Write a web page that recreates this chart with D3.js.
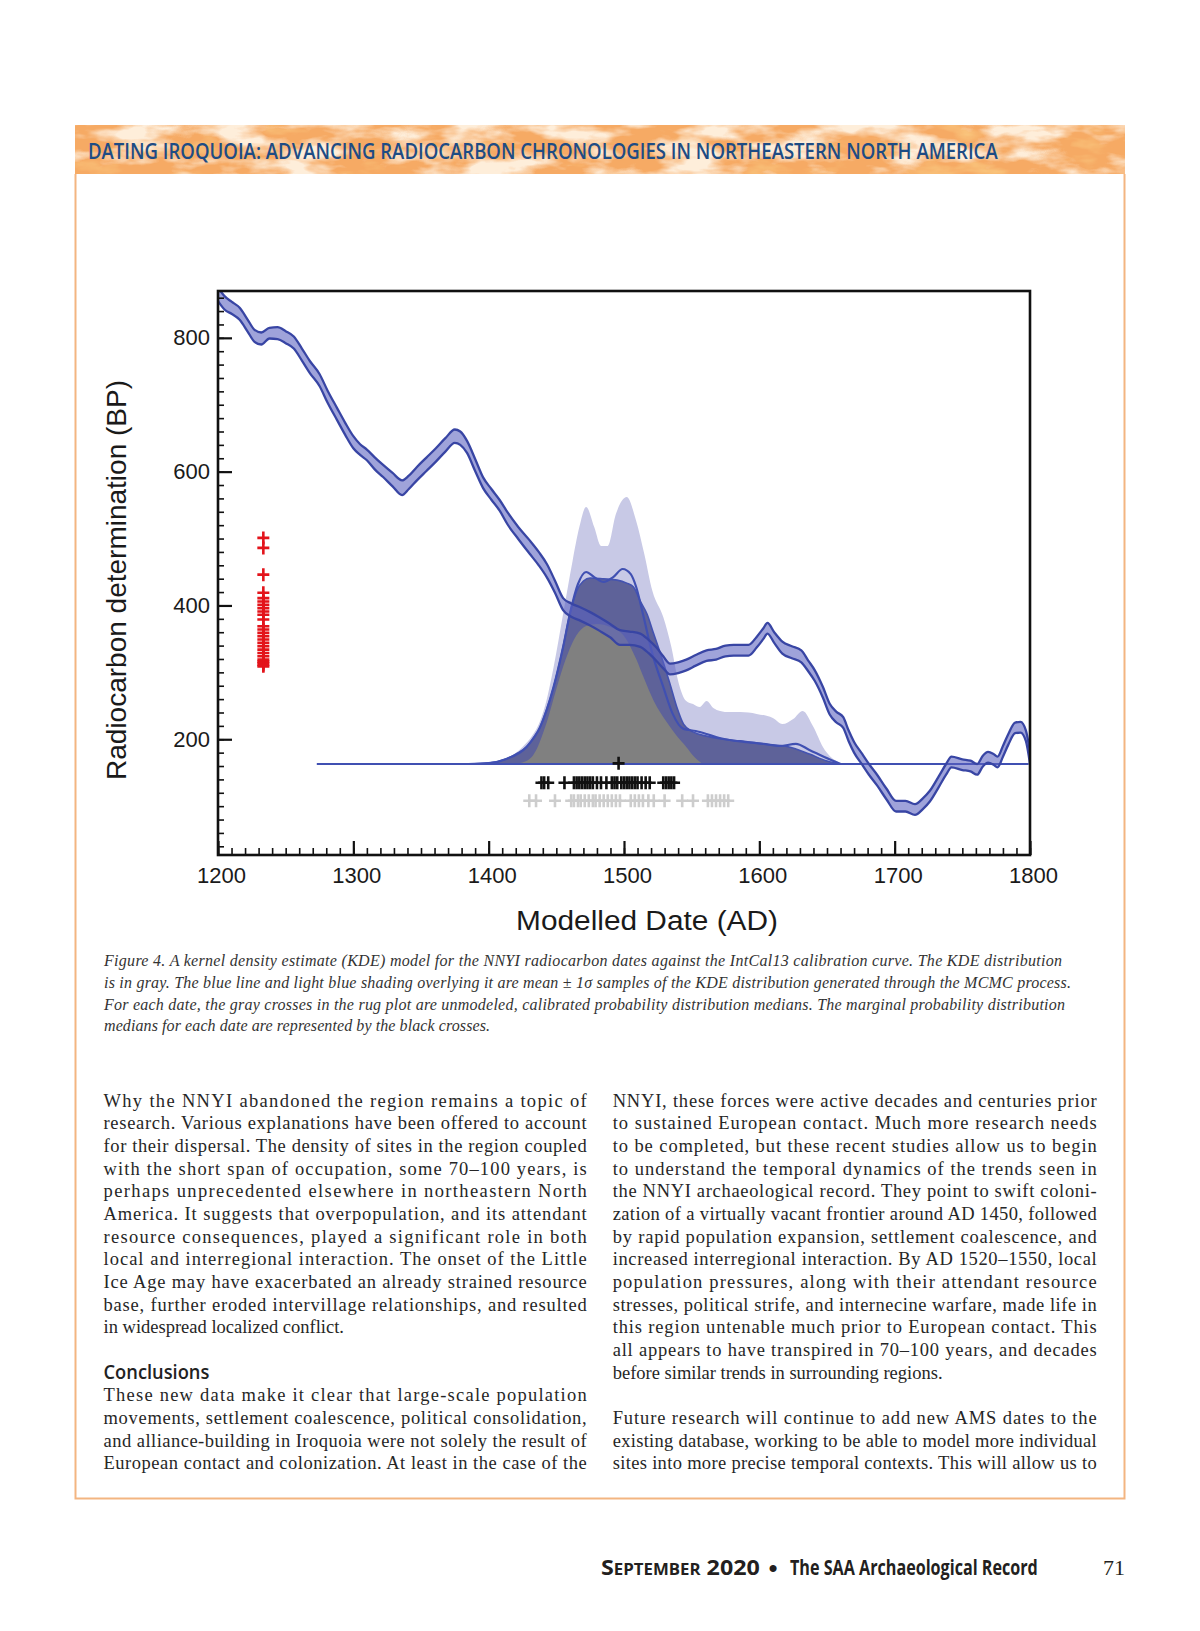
<!DOCTYPE html>
<html><head><meta charset="utf-8">
<script src="https://cdn.jsdelivr.net/npm/d3@7"></script>
<style>html,body{margin:0;padding:0;background:#fff;} svg{display:block;}</style>
</head><body>
<svg id="page" width="1200" height="1631"></svg>
<script>
// ---------------- DATA ----------------
// IntCal13 calibration curve (mean and 1-sigma, BP) by calendar year AD
const calYears = [1200,1205,1210,1216,1222,1227,1232,1238,1244,1250,1256,1262,1268,1275,1281,1288,1294,1300,1305,1310,1316,1322,1329,1336,1341,1347,1354,1361,1368,1375,1379,1384,1390,1396,1402,1408,1414,1422,1430,1437,1443,1449,1455,1461,1468,1475,1482,1490,1497,1504,1512,1518,1524,1529,1534,1540,1546,1553,1561,1568,1575,1581,1587,1592,1598,1603,1606,1611,1617,1624,1631,1636,1641,1647,1652,1657,1662,1666,1670,1676,1681,1687,1694,1701,1708,1715,1721,1726,1733,1738,1742,1750,1756,1761,1765,1769,1773,1776,1780,1784,1789,1793,1797,1800];
const calMean = [865,852,845,836,818,803,799,807,807,801,793,775,756,737,712,686,664,644,633,625,612,601,588,576,584,597,611,625,640,653,650,637,610,583,566,550,530,508,488,470,452,428,402,393,387,380,372,362,352,351,348,339,327,315,305,307,311,318,325,327,332,333,333,333,345,358,366,352,337,330,324,310,295,270,245,233,225,205,188,170,155,139,118,100,100,95,104,115,138,155,166,162,160,155,167,173,170,166,182,200,217,218,205,172];
const calSigma = [10,10,9,9,9, 9,9,8,9,9, 9,9,9,9,9, 9,9,9,8,8, 9,9,10,11,10, 10,10,10,10,10, 10,9,9,8,8, 8,9,9,10,10, 10,9,9,10,10, 10,10,10,11,10, 10,10,10,9,8, 8,8,8,8,8, 8,8,8,8,8, 8,8,8,9,9, 9,8,8,8,8, 8,8,8,8,8, 8,8,8,8,8, 8,8,8,8,8, 8,8,8,8,8, 8,8,8,8,8, 8,8,8,9];

// KDE model (relative density): +1 sigma envelope, -1 sigma, mean, and KDE distribution
const hiYears = [1380,1396,1405,1415,1425,1432,1438,1443,1448,1455,1462,1467,1472,1478,1483,1488,1494,1502,1509,1515,1521,1529,1535,1540,1546,1551,1556,1561,1566,1571,1578,1586,1598,1610,1617,1625,1632,1640,1647,1652,1657,1664];
const hiDens = [0,0.003,0.01,0.023,0.057,0.093,0.143,0.217,0.323,0.5,0.677,0.79,0.857,0.79,0.727,0.727,0.833,0.89,0.81,0.7,0.577,0.49,0.39,0.277,0.21,0.2,0.19,0.21,0.187,0.177,0.173,0.173,0.167,0.153,0.133,0.15,0.177,0.123,0.057,0.027,0.01,0];
const loYears = [1385,1400,1413,1420,1428,1433,1438,1443,1448,1455,1460,1465,1470,1475,1485,1495,1502,1507,1512,1517,1522,1527,1534,1539,1544,1551,1561,1573,1586,1603,1622,1637,1650,1660];
const loDens = [0,0.003,0.017,0.033,0.057,0.087,0.123,0.183,0.257,0.39,0.5,0.577,0.61,0.62,0.617,0.613,0.603,0.59,0.543,0.5,0.433,0.367,0.267,0.19,0.133,0.107,0.093,0.083,0.077,0.067,0.057,0.033,0.01,0];
const meanYears = [1385,1400,1413,1428,1438,1448,1455,1460,1466,1472,1478,1485,1492,1499,1505,1509,1514,1521,1529,1536,1544,1553,1561,1568,1578,1603,1615,1627,1637,1648,1660];
const meanDens = [0,0.003,0.017,0.057,0.123,0.257,0.39,0.5,0.6,0.64,0.623,0.607,0.623,0.65,0.633,0.59,0.5,0.367,0.257,0.167,0.117,0.11,0.1,0.09,0.08,0.067,0.06,0.067,0.047,0.023,0];
const kdeYears = [1418,1425,1433,1443,1450,1457,1465,1472,1480,1490,1500,1509,1515,1522,1531,1539,1546,1552,1558];
const kdeDens = [0,0.005,0.03,0.14,0.25,0.35,0.43,0.46,0.467,0.457,0.427,0.35,0.283,0.21,0.143,0.093,0.057,0.023,0];
const kdeSpan = [1273, 1799];
const kdeBaseBP = 163;

// Rug plots
const radiocarbonBP = [501,486,446,419,411,406,401,396,391,386,379,369,364,359,354,349,344,339,334,329,324,319,316,314,311,309];
const modelledMedians = [1439,1441,1444,1456,1463,1465,1467,1469,1471,1473,1475,1477,1480,1483,1487,1491,1493,1495,1498,1500,1502,1504,1506,1508,1510,1513,1516,1519,1529,1531,1533,1535,1537];
const unmodelledMedians = [1430,1435,1449,1461,1463,1466,1468,1471,1474,1477,1479,1482,1485,1488,1491,1494,1497,1505,1508,1511,1514,1518,1522,1530,1543,1551,1562,1565,1568,1571,1574,1577];
const kdeMedian = [1496];

// Axes
const xMajor = [1200,1300,1400,1500,1600,1700,1800];
const yMajor = [200,400,600,800];

// Text
const bannerTitle = "DATING IROQUOIA: ADVANCING RADIOCARBON CHRONOLOGIES IN NORTHEASTERN NORTH AMERICA";
const xTitle = "Modelled Date (AD)";
const yTitle = "Radiocarbon determination (BP)";
const captionLines = [
 "Figure 4. A kernel density estimate (KDE) model for the NNYI radiocarbon dates against the IntCal13 calibration curve. The KDE distribution",
 "is in gray. The blue line and light blue shading overlying it are mean ± 1σ samples of the KDE distribution generated through the MCMC process.",
 "For each date, the gray crosses in the rug plot are unmodeled, calibrated probability distribution medians. The marginal probability distribution",
 "medians for each date are represented by the black crosses."
];
const leftCol = [
 ["Why the NNYI abandoned the region remains a topic of", 1],
 ["research. Various explanations have been offered to account", 1],
 ["for their dispersal. The density of sites in the region coupled", 1],
 ["with the short span of occupation, some 70–100 years, is", 1],
 ["perhaps unprecedented elsewhere in northeastern North", 1],
 ["America. It suggests that overpopulation, and its attendant", 1],
 ["resource consequences, played a significant role in both", 1],
 ["local and interregional interaction. The onset of the Little", 1],
 ["Ice Age may have exacerbated an already strained resource", 1],
 ["base, further eroded intervillage relationships, and resulted", 1],
 ["in widespread localized conflict.", 0],
 ["", 0],
 ["Conclusions", 2],
 ["These new data make it clear that large-scale population", 1],
 ["movements, settlement coalescence, political consolidation,", 1],
 ["and alliance-building in Iroquoia were not solely the result of", 1],
 ["European contact and colonization. At least in the case of the", 1]
];
const rightCol = [
 ["NNYI, these forces were active decades and centuries prior", 1],
 ["to sustained European contact. Much more research needs", 1],
 ["to be completed, but these recent studies allow us to begin", 1],
 ["to understand the temporal dynamics of the trends seen in", 1],
 ["the NNYI archaeological record. They point to swift coloni-", 1],
 ["zation of a virtually vacant frontier around AD 1450, followed", 1],
 ["by rapid population expansion, settlement coalescence, and", 1],
 ["increased interregional interaction. By AD 1520–1550, local", 1],
 ["population pressures, along with their attendant resource", 1],
 ["stresses, political strife, and internecine warfare, made life in", 1],
 ["this region untenable much prior to European contact. This", 1],
 ["all appears to have transpired in 70–100 years, and decades", 1],
 ["before similar trends in surrounding regions.", 0],
 ["", 0],
 ["Future research will continue to add new AMS dates to the", 1],
 ["existing database, working to be able to model more individual", 1],
 ["sites into more precise temporal contexts. This will allow us to", 1]
];

// ---------------- DRAW ----------------
const svg = d3.select("#page");
const defs = svg.append("defs");
const filt = defs.append("filter").attr("id","mottle").attr("x",0).attr("y",0).attr("width",1).attr("height",1);
filt.append("feTurbulence").attr("type","fractalNoise").attr("baseFrequency","0.018 0.05").attr("numOctaves",4).attr("seed",3).attr("result","noise");
filt.append("feColorMatrix").attr("in","noise").attr("type","matrix")
  .attr("values","0 0 0 0 0.99  0 0 0 0 0.85  0 0 0 0 0.70  3.6 0 0 0 -1.5").attr("result","light");
filt.append("feColorMatrix").attr("in","noise").attr("type","matrix")
  .attr("values","0 0 0 0 0.95  0 0 0 0 0.55  0 0 0 0 0.20  0 -3.4 0 0 1.45").attr("result","dark");
const fm = filt.append("feMerge");
fm.append("feMergeNode").attr("in","dark");
fm.append("feMergeNode").attr("in","light");
filt.append("feComposite").attr("in2","SourceGraphic").attr("operator","in");

defs.append("clipPath").attr("id","plotclip").append("rect")
  .attr("x",218).attr("y",291).attr("width",812).attr("height",564);

// helper: place text and scale it horizontally to a target width
function fitText(sel, tx, ty, width, rot){
  const w = sel.node().getComputedTextLength();
  const s = width / w;
  sel.attr("x",0).attr("y",0)
    .attr("transform",`translate(${tx},${ty})${rot?` rotate(${rot})`:""} scale(${s},1)`);
  return sel;
}

// Banner + page border
svg.append("rect").attr("x",75).attr("y",125).attr("width",1050).attr("height",49).attr("fill","#f6aa64");
svg.append("rect").attr("x",75).attr("y",125).attr("width",1050).attr("height",49).attr("fill","#000").attr("filter","url(#mottle)");
fitText(svg.append("text").text(bannerTitle)
  .attr("font-family","'Open Sans', sans-serif").attr("font-weight",600).attr("font-size",21.5)
  .attr("fill","#1e4c84"), 88, 158.5, 910);
svg.append("path").attr("d","M75.5,174V1498.5H1124.5V174").attr("fill","none")
  .attr("stroke","#f3b581").attr("stroke-width",2);

// Scales
const x = d3.scaleLinear().domain([1200,1800]).range([218,1030]);
const y = d3.scaleLinear().domain([27,870]).range([855,291]);
const yD = d3.scaleLinear().domain([0,1]).range([y(kdeBaseBP), y(kdeBaseBP)-300]);

const plot = svg.append("g").attr("clip-path","url(#plotclip)");
const densArea = (yrs, ds) => d3.area().x((d,i)=>x(yrs[i])).y0(yD(0)).y1((d,i)=>yD(ds[i])).curve(d3.curveMonotoneX)(ds);
const densLine = (yrs, ds) => d3.line().x((d,i)=>x(yrs[i])).y((d,i)=>yD(ds[i])).curve(d3.curveMonotoneX)(ds);

// KDE layers
plot.append("path").attr("d",densArea(hiYears,hiDens)).attr("fill","#c8c9e6");
plot.append("path").attr("d",densArea(loYears,loDens)).attr("fill","#5e6299");
plot.append("path").attr("d",densLine(loYears,loDens)).attr("fill","none").attr("stroke","#4453b0").attr("stroke-width",1.6);
plot.append("path").attr("d",densArea(kdeYears,kdeDens)).attr("fill","#808080");
plot.append("path").attr("d",densLine(meanYears,meanDens)).attr("fill","none").attr("stroke","#4050b2").attr("stroke-width",2.2);
plot.append("line").attr("x1",x(kdeSpan[0])).attr("x2",x(kdeSpan[1]))
  .attr("y1",yD(0)).attr("y2",yD(0)).attr("stroke","#4050b2").attr("stroke-width",2.2);

// Calibration band
const calIdx = d3.range(calYears.length);
const calArea = d3.area().x(i=>x(calYears[i])).y0(i=>y(calMean[i]-calSigma[i])).y1(i=>y(calMean[i]+calSigma[i])).curve(d3.curveMonotoneX);
const calUp = d3.line().x(i=>x(calYears[i])).y(i=>y(calMean[i]+calSigma[i])).curve(d3.curveMonotoneX);
const calLo = d3.line().x(i=>x(calYears[i])).y(i=>y(calMean[i]-calSigma[i])).curve(d3.curveMonotoneX);
plot.append("path").attr("d",calArea(calIdx)).attr("fill","#5a60c0").attr("fill-opacity",0.58);
plot.append("path").attr("d",calUp(calIdx)).attr("fill","none").attr("stroke","#3845a4").attr("stroke-width",2.3);
plot.append("path").attr("d",calLo(calIdx)).attr("fill","none").attr("stroke","#3845a4").attr("stroke-width",2.3);

// Rug crosses
const crossPath = "M-6,0H6M0,-6.5V6.5";
function crosses(data, fx, fy, color){
  plot.append("g").selectAll("path").data(data).join("path")
    .attr("d",crossPath).attr("transform",d=>`translate(${fx(d)},${fy(d)})`)
    .attr("stroke",color).attr("stroke-width",2.6).attr("fill","none");
}
crosses(unmodelledMedians, d=>x(d), d=>y(108), "#cdcdcd");
crosses(modelledMedians, d=>x(d), d=>y(135), "#111");
crosses(kdeMedian, d=>x(d), d=>y(kdeBaseBP+1), "#111");
crosses(radiocarbonBP, d=>x(1233.5), d=>y(d), "#e3141b");

// Axes
const axisFont = "'Liberation Sans', Arial, sans-serif";
const gx = svg.append("g").attr("transform","translate(0,855)");
gx.call(d3.axisBottom(x).tickValues(d3.range(1200,1801,10)).tickSize(-7).tickFormat(""));
const gxM = svg.append("g").attr("transform","translate(0,855)");
gxM.call(d3.axisBottom(x).tickValues(xMajor).tickSize(-14).tickPadding(12).tickFormat(d3.format("d")));
const gy = svg.append("g").attr("transform","translate(218,0)");
gy.call(d3.axisLeft(y).tickValues(d3.range(40,861,20)).tickSize(-6).tickFormat(""));
const gyM = svg.append("g").attr("transform","translate(218,0)");
gyM.call(d3.axisLeft(y).tickValues(yMajor).tickSize(-14).tickPadding(8).tickFormat(d3.format("d")));
[gx,gxM,gy,gyM].forEach(g=>{
  g.select(".domain").remove();
  g.selectAll("line").attr("stroke","#111").attr("stroke-width",1.6);
  g.selectAll("text").attr("font-family",axisFont).attr("font-size",22).attr("fill","#1a1a1a");
});
gxM.selectAll("line").attr("stroke-width",2.2);
gxM.selectAll("text").attr("dx",3);
gyM.selectAll("line").attr("stroke-width",2.2);

svg.append("rect").attr("x",218).attr("y",291).attr("width",812).attr("height",564)
  .attr("fill","none").attr("stroke","#111").attr("stroke-width",2.6);

fitText(svg.append("text").attr("text-anchor","middle").text(xTitle)
  .attr("font-family",axisFont).attr("font-size",28).attr("fill","#1a1a1a"), 647, 930, 262);
fitText(svg.append("text").attr("text-anchor","middle").text(yTitle)
  .attr("font-family",axisFont).attr("font-size",28).attr("fill","#1a1a1a"), 126, 580, 400, -90);

// Caption
const capWidths = [958, 967, 961, 386];
captionLines.forEach((s,i)=>{
  svg.append("text").attr("x",104).attr("y",966+i*21.8).text(s)
    .attr("font-family","'Liberation Serif', serif").attr("font-style","italic").attr("font-size",16)
    .attr("fill","#333").attr("textLength",capWidths[i]).attr("lengthAdjust","spacing");
});

// Body columns
function column(lines, x0, w){
  lines.forEach((ln,i)=>{
    const [s,mode] = ln;
    if(!s) return;
    const yb = 1106.7 + i*22.66;
    if(mode===2){
      fitText(svg.append("text").text(s)
        .attr("font-family","'Open Sans', sans-serif").attr("font-weight",600).attr("font-size",19)
        .attr("fill","#222"), x0, yb, 106);
      return;
    }
    const t = svg.append("text").attr("x",x0).attr("y",yb).text(s)
      .attr("font-family","'Liberation Serif', serif").attr("font-size",18.5).attr("fill","#262626");
    if(mode===1) t.attr("textLength",w).attr("lengthAdjust","spacing");
  });
}
column(leftCol, 103.5, 483.2);
column(rightCol, 612.7, 484);

// Footer
fitText(svg.append("text").text("September 2020")
  .attr("font-family","'Open Sans', sans-serif").attr("font-weight",700).attr("font-size",21)
  .style("font-variant","small-caps").attr("fill","#231f20"), 601, 1575, 158);
svg.append("text").attr("x",773).attr("y",1577).attr("text-anchor","middle").text("•")
  .attr("font-family","'Liberation Sans', sans-serif").attr("font-size",26).attr("fill","#231f20");
fitText(svg.append("text").text("The SAA Archaeological Record")
  .attr("font-family","'Open Sans', sans-serif").attr("font-weight",700).attr("font-size",21)
  .attr("fill","#231f20"), 790, 1575, 248);
svg.append("text").attr("x",1125).attr("y",1575).attr("text-anchor","end").text("71")
  .attr("font-family","'Liberation Serif', serif").attr("font-size",22).attr("fill","#231f20");
</script>
</body></html>
